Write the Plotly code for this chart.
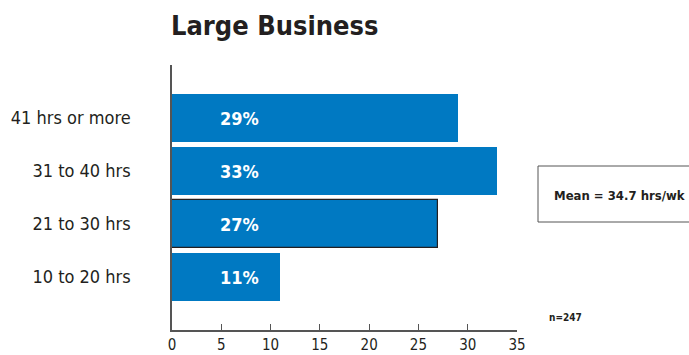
import plotly.graph_objects as go

categories = ["10 to 20 hrs", "21 to 30 hrs", "31 to 40 hrs", "41 hrs or more"]
values = [11, 27, 33, 29]
labels = ["11%", "27%", "33%", "29%"]
x_ticks = [0, 5, 10, 15, 20, 25, 30, 35]
title_text = "Large Business"
mean_text = "Mean = 34.7 hrs/wk"
n_text = "n=247"

FONT = "'DejaVu Sans Condensed', 'Liberation Sans Narrow', 'Arial Narrow', Roboto, sans-serif"
BLUE = "#0079C2"
DARK = "#231F20"

line_colors = [BLUE, DARK, BLUE, BLUE]
line_widths = [0, 1.2, 0, 0]

fig = go.Figure()
fig.add_trace(go.Bar(
    y=list(range(len(categories))), x=values, orientation="h",
    marker=dict(color=BLUE, line=dict(color=line_colors, width=line_widths)),
    width=0.89, hoverinfo="skip",
))

for i, lab in enumerate(labels):
    fig.add_annotation(x=6.8, y=i, text=f"<b>{lab}</b>", showarrow=False,
                       font=dict(family=FONT, size=18, color="white"),
                       xref="x", yref="y")

fig.add_annotation(x=0, y=1, xref="paper", yref="paper", yanchor="bottom",
                   xanchor="left", xshift=-3, yshift=22, text=f"<b>{title_text}</b>",
                   showarrow=False, font=dict(family=FONT, size=27, color=DARK))

# mean box
fig.add_shape(type="rect", xref="paper", yref="paper",
              x0=(538 - 172) / 345, x1=(700 - 172) / 345,
              y0=(330 - 222) / 265, y1=(330 - 166) / 265,
              line=dict(color="#555555", width=1), fillcolor="white")
fig.add_annotation(x=(552 - 172) / 345, y=(330 - 195) / 265, xref="paper", yref="paper",
                   xanchor="left", text=f"<b>{mean_text}</b>", showarrow=False,
                   font=dict(family=FONT, size=13, color=DARK))
fig.add_annotation(x=(547 - 172) / 345, y=(330 - 325) / 265, xref="paper", yref="paper",
                   xanchor="left", text=f"<b>{n_text}</b>", showarrow=False,
                   font=dict(family=FONT, size=10, color=DARK))

fig.update_layout(
    width=689, height=355,
    margin=dict(l=172, r=172, t=65, b=25),
    plot_bgcolor="white", paper_bgcolor="white",
    showlegend=False,
    bargap=0,
    xaxis=dict(range=[0, 35], tickvals=x_ticks, ticktext=[str(v) for v in x_ticks],
               showgrid=False, zeroline=False, showline=True, linecolor="#555555",
               linewidth=1.5, ticks="inside", ticklen=6, tickcolor="#555555",
               tickfont=dict(family=FONT, size=15, color=DARK), fixedrange=True,
               automargin=False),
    yaxis=dict(range=[-1, 4], tickvals=list(range(len(categories))), ticktext=categories,
               showgrid=False, zeroline=False, showline=True, linecolor="#555555",
               linewidth=1.5, ticks="", ticklabelstandoff=36, automargin=False,
               tickfont=dict(family=FONT, size=18, color=DARK), fixedrange=True),
)

fig.write_html("out.html")
